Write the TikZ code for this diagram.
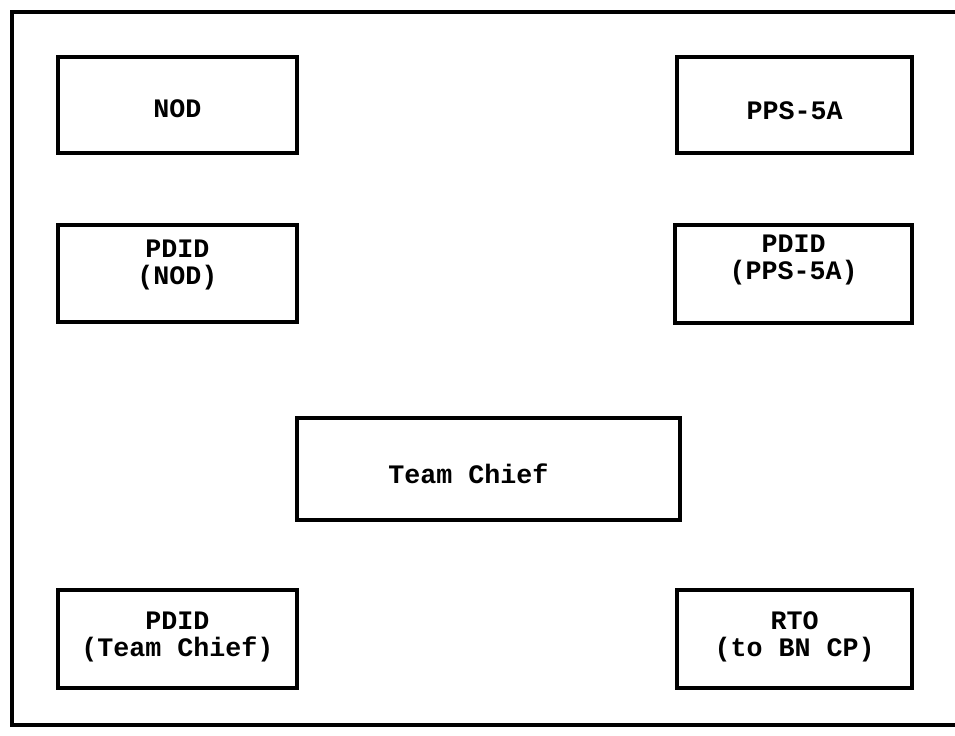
\documentclass[tikz,border=0pt]{standalone}
\usepackage{fontspec}
\setmonofont{Liberation Mono}
\newcommand{\twoline}[3]{\smash{\raisebox{#1}{\begin{tabular}{@{}c@{}}#2\\#3\end{tabular}}}}
\newcommand{\oneline}[2]{\smash{\raisebox{#1}{#2}}}
\begin{document}
\begin{tikzpicture}[x=0.75pt,y=-0.75pt,
  box/.style={draw, line width=2.5pt, inner sep=0pt, align=center,
    font=\ttfamily\bfseries\fontsize{20}{19.5}\selectfont},
  frame/.style={draw, line width=2.4pt}
]
\useasboundingbox (0,0) rectangle (955,735);
\begin{scope}
  \clip (0,0) rectangle (955,735);
  \draw[frame] (12,12) rectangle (980,725);
\end{scope}
\node[box, minimum width=179.25pt, minimum height=72pt] (nod) at (177.5,105) {\oneline{-9.6pt}{NOD}};
\node[box, minimum width=176.25pt, minimum height=72pt] (pps) at (794.5,105) {\oneline{-11pt}{PPS-5A}};
\node[box, minimum width=179.25pt, minimum height=72.75pt] (pdidnod) at (177.5,273.5) {\twoline{0.5pt}{PDID}{(NOD)}};
\node[box, minimum width=177.75pt, minimum height=73.5pt] (pdidpps) at (793.5,274) {\twoline{5pt}{PDID}{(PPS-5A)}};
\node[box, minimum width=287.25pt, minimum height=76.5pt] (chief) at (488.5,469) {\oneline{-11pt}{Team Chief}\hspace*{30pt}};
\node[box, minimum width=179.25pt, minimum height=73.5pt] (pdidchief) at (177.5,639) {\twoline{-4.3pt}{PDID}{(Team Chief)}};
\node[box, minimum width=176.25pt, minimum height=73.5pt] (rto) at (794.5,639) {\twoline{-4.3pt}{RTO}{(to BN CP)}};
\end{tikzpicture}
\end{document}
